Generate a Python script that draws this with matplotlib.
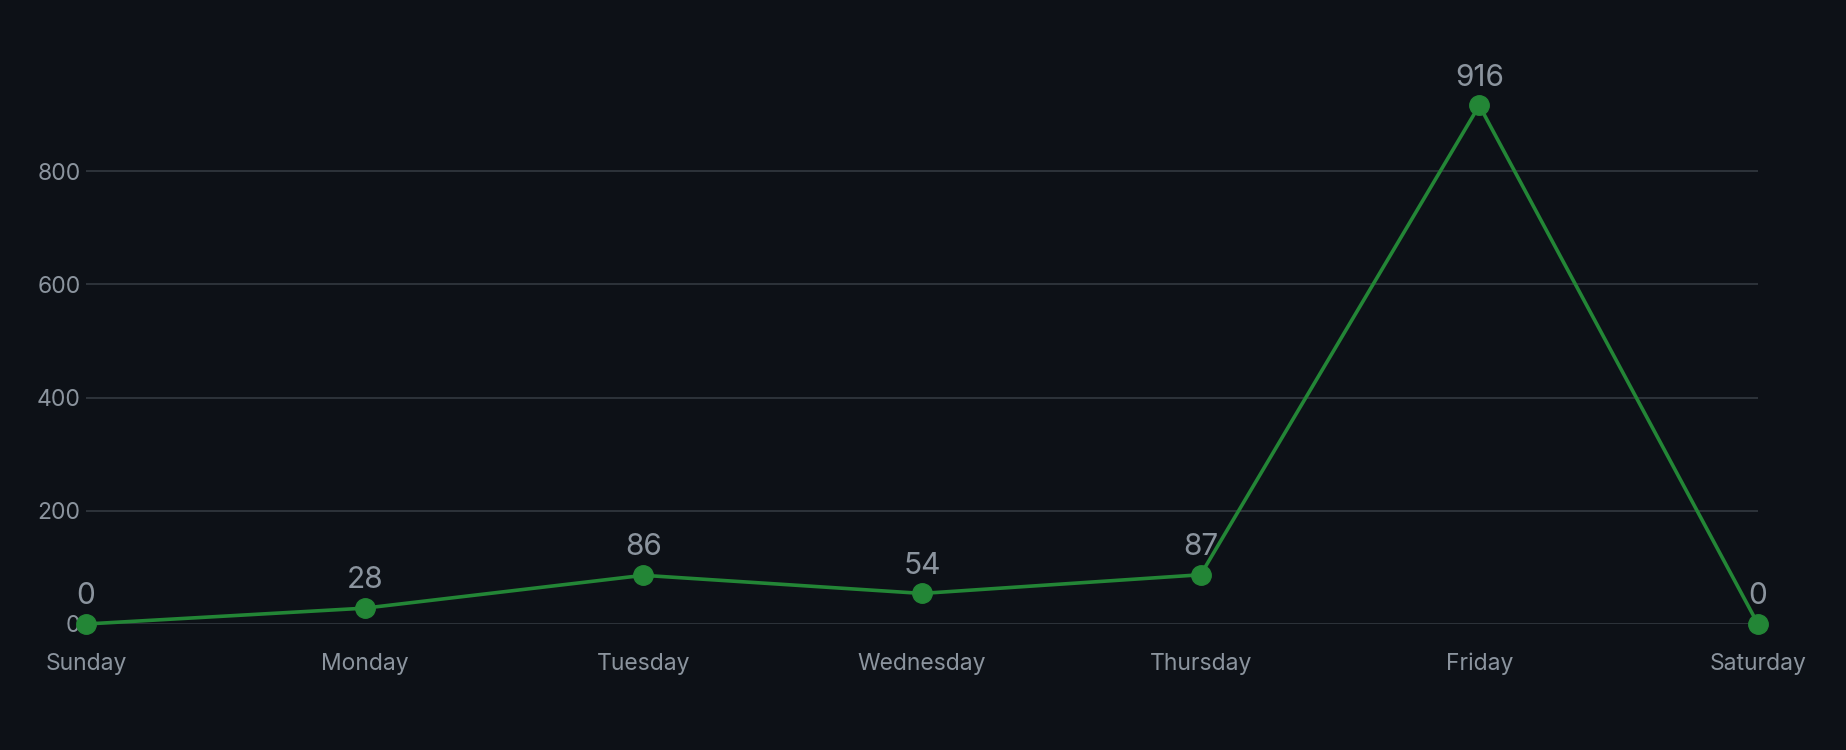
import matplotlib
matplotlib.use("Agg")
import matplotlib.pyplot as plt

# dani u tjednu i broj dogadaja
days = ["Sunday", "Monday", "Tuesday", "Wednesday", "Thursday", "Friday", "Saturday"]
counts = [0, 28, 86, 54, 87, 916, 0]
y_ticks = [0, 200, 400, 600, 800]

bg = "#0d1117"
green = "#238636"
text_col = "#8b949e"
grid_col = "#30363d"

plt.rcParams["font.family"] = ["Inter", "DejaVu Sans"]

fig = plt.figure(figsize=(18.46, 7.5), dpi=100, facecolor=bg)
ax = fig.add_axes([0.0466, 0.168, 0.9057, 0.7548])
ax.set_facecolor(bg)

x = list(range(len(days)))
ax.plot(x, counts, color=green, linewidth=2.6, marker="o", markersize=14,
        markerfacecolor=green, markeredgecolor=green, zorder=3, clip_on=False)

for xi, v in zip(x, counts):
    ax.annotate(str(v), (xi, v), xytext=(0, 10), textcoords="offset points",
                ha="center", va="bottom", fontsize=21.5, color=text_col)

ax.set_xlim(0, len(days) - 1)
ax.set_ylim(0, 1000)
ax.set_xticks(x)
ax.set_xticklabels(days, va="baseline")
ax.set_yticks(y_ticks)

ax.grid(axis="y", color=grid_col, linewidth=1.3)
ax.set_axisbelow(True)
for s in ax.spines.values():
    s.set_visible(False)
ax.tick_params(axis="both", length=0, colors=text_col, labelsize=16.5)
ax.tick_params(axis="x", pad=33)
ax.tick_params(axis="y", pad=4)

fig.savefig("out.png", dpi=100, facecolor=bg)
